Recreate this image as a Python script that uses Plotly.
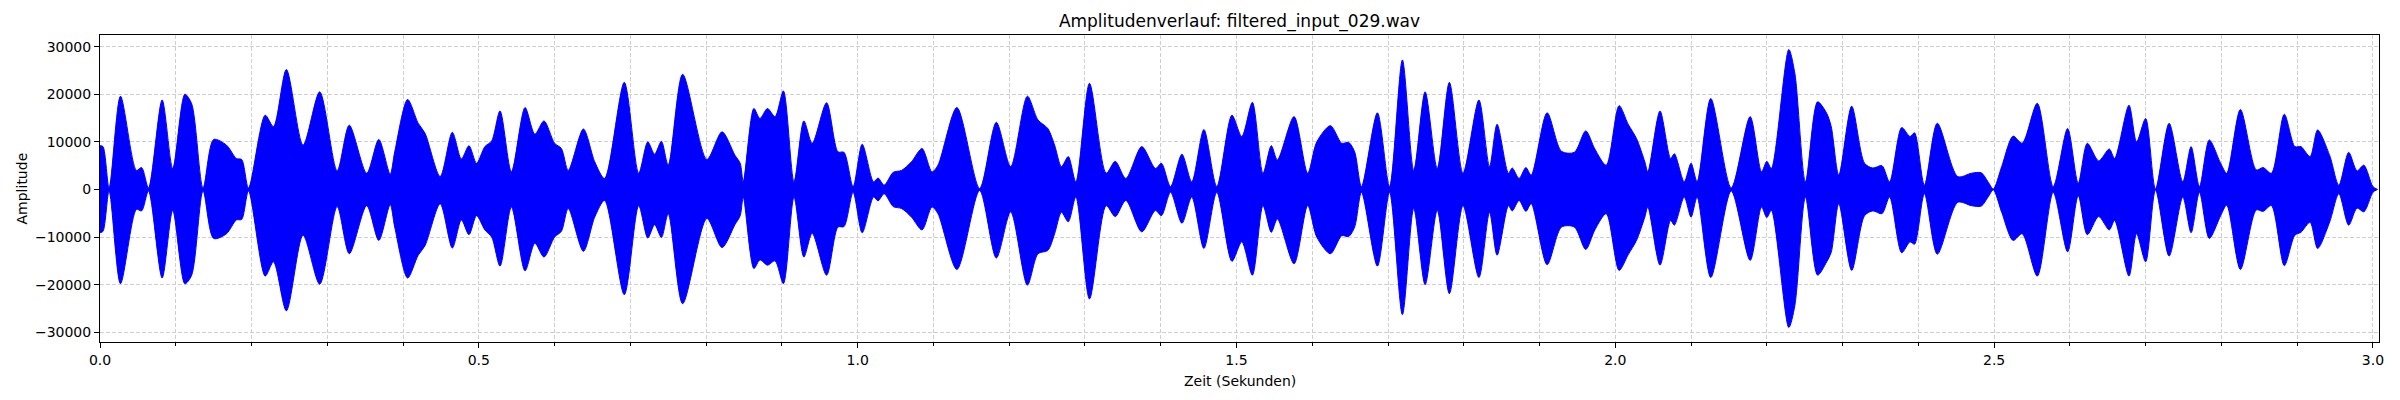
import plotly.graph_objects as go

# Hüllkurve des Signals (Zeit in s, Amplitude oben / unten)
zeit = [
    0.000, 0.004, 0.012, 0.027, 0.048, 0.055, 0.064, 0.082, 0.096, 0.112, 0.121, 0.136,
    0.150, 0.167, 0.180, 0.187, 0.196, 0.218, 0.229, 0.246, 0.268, 0.290, 0.313, 0.329,
    0.352, 0.368, 0.383, 0.389, 0.406, 0.420, 0.429, 0.449, 0.465, 0.477, 0.487, 0.497,
    0.508, 0.517, 0.528, 0.543, 0.561, 0.574, 0.586, 0.600, 0.609, 0.618, 0.638, 0.653,
    0.666, 0.692, 0.711, 0.723, 0.732, 0.741, 0.750, 0.769, 0.801, 0.821, 0.838, 0.845,
    0.849, 0.863, 0.871, 0.881, 0.891, 0.902, 0.916, 0.929, 0.940, 0.959, 0.974, 0.982,
    0.994, 1.006, 1.021, 1.027, 1.035, 1.047, 1.058, 1.071, 1.085, 1.098, 1.106, 1.131,
    1.161, 1.183, 1.202, 1.224, 1.238, 1.251, 1.260, 1.269, 1.278, 1.288, 1.306, 1.328,
    1.340, 1.354, 1.375, 1.393, 1.401, 1.413, 1.428, 1.441, 1.457, 1.474, 1.494, 1.507,
    1.521, 1.535, 1.546, 1.554, 1.576, 1.594, 1.606, 1.624, 1.639, 1.648, 1.656, 1.665,
    1.686, 1.702, 1.719, 1.734, 1.749, 1.765, 1.781, 1.799, 1.820, 1.834, 1.844, 1.859,
    1.864, 1.873, 1.882, 1.889, 1.910, 1.929, 1.946, 1.961, 1.973, 1.988, 2.005, 2.017,
    2.028, 2.039, 2.043, 2.059, 2.073, 2.078, 2.091, 2.100, 2.108, 2.126, 2.153, 2.178,
    2.193, 2.200, 2.206, 2.229, 2.237, 2.251, 2.267, 2.279, 2.285, 2.295, 2.312, 2.329,
    2.340, 2.352, 2.362, 2.378, 2.389, 2.395, 2.408, 2.425, 2.452, 2.470, 2.483, 2.492,
    2.499, 2.510, 2.525, 2.537, 2.557, 2.578, 2.597, 2.611, 2.623, 2.638, 2.652, 2.659,
    2.678, 2.688, 2.700, 2.713, 2.731, 2.749, 2.760, 2.771, 2.784, 2.799, 2.807, 2.825,
    2.846, 2.855, 2.866, 2.883, 2.897, 2.905, 2.917, 2.927, 2.943, 2.955, 2.968, 2.979,
    2.988, 3.000, 3.006,
]
oben = [
    9200, 9000, 300, 19600, 4000, 4600, 300, 18800, 4400, 20000, 18000, 300,
    10500, 9300, 6500, 6300, 300, 15600, 13200, 25200, 9300, 20500, 3900, 13500,
    3400, 10500, 3200, 7900, 18900, 13900, 11800, 2700, 12000, 6400, 9200, 5500,
    9000, 10200, 16500, 3700, 17200, 11600, 14400, 9700, 8600, 4000, 12700, 5800,
    2300, 22500, 3400, 10000, 7400, 10100, 5100, 24200, 6300, 12100, 7200, 5500,
    1600, 17000, 14900, 17000, 15300, 20700, 1600, 14400, 9700, 18200, 7900, 7800,
    600, 9500, 1600, 2400, 900, 3600, 4000, 5800, 8600, 3700, 5100, 17200,
    200, 14100, 4800, 19600, 14600, 12800, 9300, 4800, 6900, 1600, 22300, 3400,
    5900, 2300, 9000, 4400, 5500, 600, 7400, 1600, 12600, 600, 15600, 11100,
    18300, 3400, 9200, 6200, 15300, 3400, 10000, 13400, 9700, 9900, 7900, 600,
    16100, 600, 27200, 4000, 20500, 4400, 22500, 3400, 18800, 4800, 13700, 3400,
    4500, 2300, 4600, 3000, 16100, 8000, 7800, 12300, 8500, 5100, 17600, 13700,
    10700, 5800, 3700, 16500, 6500, 7500, 1600, 5500, 1600, 19100, 300, 15300,
    3700, 5900, 4400, 29400, 24400, 1600, 18400, 16000, 13200, 3000, 17500, 5500,
    4500, 5000, 1600, 13000, 11100, 11900, 900, 13900, 2700, 3400, 3500, 1600,
    100, 4800, 11200, 9700, 18100, 600, 12800, 1300, 9700, 6000, 8500, 6500,
    17700, 10000, 14900, 100, 13900, 1600, 9000, 600, 10400, 5500, 3400, 16800,
    4100, 4600, 3400, 15800, 9000, 9000, 6900, 12500, 7100, 900, 7800, 3900,
    5100, 600, 0,
]
unten = [
    -9100, -8800, -300, -19800, -4200, -4500, -300, -18600, -4400, -19800, -18000, -300,
    -10300, -9300, -6400, -6300, -300, -18200, -15200, -25500, -9600, -19900, -3600, -13500,
    -3400, -10700, -3200, -7900, -18600, -13800, -11800, -3000, -12300, -6400, -9500, -5500,
    -8500, -10000, -16100, -3700, -17100, -11300, -14200, -10000, -8800, -4000, -13000, -5800,
    -2300, -22100, -3400, -10200, -7400, -10100, -5100, -24000, -6100, -12200, -7400, -5500,
    -1600, -16600, -14800, -15900, -15000, -19800, -1600, -14200, -9200, -18000, -7900, -7800,
    -600, -9100, -1600, -2400, -900, -3600, -4000, -5800, -8500, -3700, -5100, -16800,
    -200, -14400, -4700, -20100, -13500, -12800, -9300, -4800, -6800, -1600, -23000, -3400,
    -5700, -2300, -8900, -4400, -5500, -600, -7100, -1600, -12400, -600, -15100, -11000,
    -18000, -3400, -9000, -6200, -15600, -3400, -10000, -13500, -9700, -9900, -7900, -600,
    -16100, -600, -26300, -4000, -20000, -4400, -21900, -3400, -18500, -4800, -13800, -3400,
    -4500, -2300, -4600, -3000, -15800, -7900, -7900, -12600, -8500, -5100, -17000, -13700,
    -10700, -5800, -3700, -15900, -6500, -7500, -1600, -5800, -1600, -18500, -300, -14900,
    -3700, -5900, -4400, -29000, -24400, -1600, -18000, -15200, -13200, -3000, -17000, -5500,
    -4500, -5100, -1600, -13300, -11000, -11500, -900, -13600, -2700, -3400, -3500, -1600,
    -100, -4800, -10700, -9300, -18200, -600, -13100, -1300, -9500, -5700, -8500, -6500,
    -18200, -9300, -15200, -100, -14000, -1600, -9100, -600, -10300, -5500, -3300, -16800,
    -4300, -4600, -3400, -16000, -9600, -9000, -6900, -12400, -6800, -900, -7500, -3900,
    -4700, -600, 0,
]

titel = "Amplitudenverlauf: filtered_input_029.wav"
blau = "#0000ff"
gitter = "#cfcfcf"

fig = go.Figure()
# untere Kante zuerst, dann obere Kante mit Füllung bis zur unteren
fig.add_trace(go.Scatter(x=zeit, y=unten, mode="lines",
                         line=dict(color=blau, width=1, shape="spline", smoothing=0.8),
                         hoverinfo="skip", showlegend=False))
fig.add_trace(go.Scatter(x=zeit, y=oben, mode="lines", fill="tonexty", fillcolor=blau,
                         line=dict(color=blau, width=1, shape="spline", smoothing=0.8),
                         hoverinfo="skip", showlegend=False))

achsen_font = dict(family="DejaVu Sans", size=14, color="black")

fig.update_xaxes(
    range=[0, 3.008], dtick=0.5, tick0=0, tickformat=".1f",
    ticks="outside", ticklen=5, tickcolor="black", tickfont=achsen_font,
    showgrid=True, gridcolor=gitter, griddash="4px,2px", gridwidth=1,
    minor=dict(dtick=0.1, tick0=0, ticks="outside", ticklen=3, tickcolor="black",
               showgrid=True, gridcolor=gitter, griddash="4px,2px"),
    showline=True, linecolor="black", linewidth=1, mirror=True, zeroline=False,
)
fig.update_yaxes(
    range=[-32040, 32440], tickvals=[-30000, -20000, -10000, 0, 10000, 20000, 30000],
    ticktext=["\u221230000", "\u221220000", "\u221210000", "0", "10000", "20000", "30000"],
    ticks="outside", ticklen=5, tickcolor="black", tickfont=achsen_font,
    showgrid=True, gridcolor=gitter, griddash="4px,2px", gridwidth=1,
    showline=True, linecolor="black", linewidth=1, mirror=True, zeroline=False,
)

fig.update_layout(
    width=2400, height=400,
    margin=dict(l=100, r=21, t=35, b=58),
    paper_bgcolor="white", plot_bgcolor="white",
    font=dict(family="DejaVu Sans", color="black"),
    title=dict(text=titel, x=0.5, xref="paper", xanchor="center",
               y=1 - 21 / 400, yref="container", yanchor="middle",
               font=dict(family="DejaVu Sans", size=17, color="black")),
    annotations=[
        dict(text="Zeit (Sekunden)", xref="paper", yref="paper", x=0.5, y=-39 / 307,
             xanchor="center", yanchor="middle", showarrow=False, font=achsen_font),
        dict(text="Amplitude", xref="paper", yref="paper", x=-79 / 2279, y=0.5,
             xanchor="center", yanchor="middle", textangle=-90, showarrow=False,
             font=achsen_font),
    ],
)

# Seitenrand des Browsers entfernen, damit die Grafik bei (0, 0) beginnt
fig.write_html("out.html", config={"displayModeBar": False},
               post_script="document.body.style.margin='0px';")
